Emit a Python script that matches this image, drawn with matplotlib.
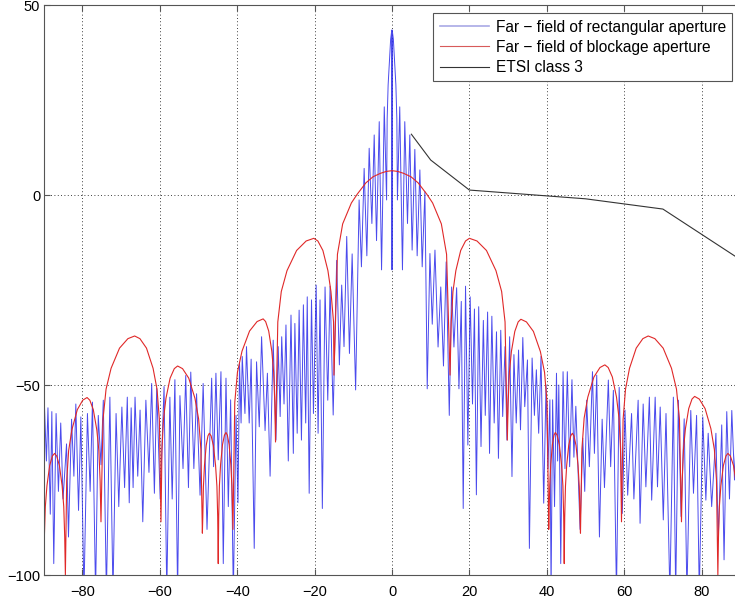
import matplotlib
matplotlib.use("Agg")
import matplotlib.pyplot as plt

plt.rcParams["font.family"] = ["Liberation Sans", "DejaVu Sans"]

# far-field of the rectangular aperture (angle deg, level dB)
blue_left_outer = [
    (-90.0, -50), (-89.3, -70), (-88.9, -56), (-88.3, -84), (-87.9, -57), (-87.4, -97),
    (-86.8, -57.5), (-86.2, -78), (-85.6, -60), (-85.0, -80), (-84.1, -65.5), (-83.6, -90),
    (-82.8, -59), (-82.2, -74), (-81.7, -55), (-81.0, -83), (-80.4, -58.4), (-79.6, -105),
    (-78.7, -57.5), (-78.0, -78), (-77.4, -54.5), (-76.6, -105), (-75.9, -58), (-75.2, -71),
    (-74.6, -54), (-73.8, -105), (-72.9, -53.2), (-72.1, -105), (-71.3, -57.5), (-70.6, -82),
    (-69.8, -55.8), (-69.1, -77), (-68.4, -53.2), (-67.9, -81), (-67.4, -56), (-66.9, -77),
    (-66.4, -53.2), (-65.7, -74), (-65.1, -56.6), (-64.4, -86), (-63.6, -54), (-62.8, -73),
    (-62.1, -49.6), (-61.4, -78.5), (-60.8, -50.9), (-59.9, -80), (-58.9, -50.4), (-58.2, -105),
    (-57.4, -53.2), (-56.8, -80), (-56.1, -48.6), (-55.4, -105), (-54.8, -52.8), (-54.0, -72),
    (-53.3, -47.5), (-52.6, -77), (-52.0, -46.6), (-51.2, -72), (-50.5, -52.3), (-49.6, -79),
    (-48.8, -49.6), (-47.8, -88),
]
blue_left_inner = [
    (-46.6, -48.2), (-46.1, -71.5), (-45.5, -46.9), (-44.9, -69.7), (-44.2, -46.5), (-43.6, -97),
    (-42.9, -48.2), (-42.3, -82), (-41.7, -53.9), (-41.0, -105), (-40.3, -58), (-39.8, -81),
    (-39.4, -44.3), (-39.0, -60), (-38.7, -42.5), (-38.0, -57.5), (-37.6, -39.9), (-36.9, -60),
    (-36.4, -43.2), (-35.6, -93), (-35.0, -43.9), (-34.3, -61), (-33.7, -37.3), (-32.8, -62),
    (-32.2, -46.9), (-31.5, -74), (-30.7, -38.2), (-30.0, -64.5), (-29.4, -39.9), (-28.9, -58.3),
    (-28.5, -37.3), (-27.9, -55), (-27.4, -34.2), (-26.8, -70), (-26.1, -31.6), (-25.5, -68),
    (-25.1, -33.8), (-24.5, -62.7), (-24.0, -30.3), (-23.4, -64.5), (-22.9, -28.9), (-22.3, -60),
    (-21.9, -26.8), (-21.4, -78.5), (-20.8, -27.6), (-20.3, -57.5), (-19.6, -23.7), (-19.1, -62.7),
    (-18.6, -27.6), (-18.0, -82.5), (-17.3, -24.2), (-16.6, -54), (-16.0, -24), (-15.2, -57.9),
    (-14.3, -17.2), (-13.6, -44.7), (-13.0, -23.7), (-12.4, -39.9), (-11.7, -10.9), (-11.0, -41.7),
    (-10.3, -15.5), (-9.4, -51.3), (-8.5, -1.3), (-7.9, -18.9), (-7.2, 7), (-6.5, -16),
    (-5.9, 12.3), (-5.2, -7.5), (-4.6, 15.8), (-4.0, -12), (-3.3, 19.3), (-2.7, -19.7),
    (-2.0, 23.2), (-1.4, -1.3),
]
blue_main = [
    (-1.25, 20), (-1.0, 29), (-0.65, 35.5), (-0.35, 41), (-0.05, 43.4), (0.0, -19.7),
    (0.05, 43.4), (0.35, 41), (0.65, 35.5), (1.0, 29), (1.25, 20),
]
blue_right_inner = [
    (1.4, -1.3), (2.0, 23.2), (2.7, -19.7), (3.3, 19.3), (4.0, -7.5), (4.6, 15.8),
    (5.2, -14.5), (5.9, 12), (6.5, -16), (7.2, 6.6), (7.8, -18.9), (8.5, 0.9),
    (9.1, -51), (9.8, -15.4), (10.4, -34), (11.1, -14.5), (11.9, -40), (12.6, -24.2),
    (13.3, -45), (14.0, -17.6), (14.8, -58), (15.4, -24.2), (16.0, -40), (16.7, -24.4),
    (17.3, -51), (17.9, -28), (18.4, -82.5), (19.0, -24), (19.6, -65.8), (20.2, -26.8),
    (20.8, -55), (21.3, -30), (21.8, -78.9), (22.4, -29.4), (23.0, -66.2), (23.6, -33),
    (24.1, -58), (24.7, -30.8), (25.2, -68), (25.8, -31.9), (26.4, -60), (27.0, -36),
    (27.5, -69.3), (28.1, -35.6), (28.6, -58.3), (29.2, -39.9), (29.7, -64.5), (30.4, -37.3),
    (31.0, -74.1), (31.5, -42), (32.1, -60), (32.7, -40.8), (33.2, -61.8), (33.8, -37.5),
    (34.3, -55.7), (35.0, -43.4), (35.5, -93), (36.2, -42.9), (36.8, -58), (37.3, -46),
    (37.9, -62.7), (38.5, -42.5), (39.2, -81.1), (39.8, -50), (40.3, -72), (40.8, -53.9),
    (41.1, -105), (41.5, -53.9), (42.0, -82), (42.5, -46.9), (42.8, -70), (43.1, -50),
    (43.6, -97), (44.2, -46.5), (44.7, -72), (45.3, -46.5), (45.9, -71.5), (46.5, -48.6),
    (47.0, -69), (47.5, -55.6),
]
blue_right_outer = [
    (48.6, -88), (49.3, -64), (49.8, -78), (50.3, -54), (51.0, -71.5), (51.8, -46.5),
    (52.3, -68), (52.9, -47.4), (53.6, -90), (54.3, -59), (54.9, -77), (55.9, -48.7),
    (56.5, -71.5), (57.2, -51.4), (58.0, -105), (58.7, -50.6), (59.5, -83.8), (60.2, -56.6),
    (60.9, -79), (61.9, -57.5), (62.5, -80), (63.6, -54), (64.1, -86.4), (64.9, -55),
    (65.6, -76.8), (66.5, -53.2), (67.1, -80.3), (68.0, -53.2), (68.6, -76.8), (69.3, -55.8),
    (70.1, -85.5), (70.8, -57.5), (71.8, -105), (72.7, -53.2), (73.3, -105), (74.0, -54),
    (74.7, -84.6), (75.5, -58.9), (76.2, -105), (77.2, -56.7), (77.9, -78.5), (78.7, -58),
    (79.4, -105), (80.3, -58.4), (81.1, -80.3), (81.7, -62.7), (82.6, -82), (83.7, -62.7),
    (84.3, -90.8), (85.2, -60.5), (85.8, -96), (86.5, -57), (87.2, -80), (87.8, -56.7),
    (88.5, -75), (89.2, -55.5), (90.0, -60),
]

# far-field of the blockage aperture
red_left = [
    (-90.0, -110), (-89.83, -90), (-89.58, -82), (-89.16, -76.5), (-88.46, -71.2), (-87.76, -68.7),
    (-87.2, -68), (-86.64, -68.7), (-85.94, -71.2), (-85.24, -76.5), (-84.82, -82), (-84.57, -90),
    (-84.4, -100),
    (-84.06, -75.3), (-83.56, -67.3), (-82.72, -61.8), (-81.32, -56.5), (-79.92, -54.0), (-78.8, -53.3),
    (-78.08, -54.0), (-77.18, -56.5), (-76.28, -61.8), (-75.74, -67.3), (-75.42, -75.3), (-75.2, -86),
    (-74.68, -59.1), (-73.89, -51.1), (-72.59, -45.6), (-70.41, -40.3), (-68.24, -37.8), (-66.5, -37.1),
    (-65.14, -37.8), (-63.44, -40.3), (-61.74, -45.6), (-60.72, -51.1), (-60.11, -59.1), (-59.7, -86),
    (-59.44, -67), (-59.05, -59), (-58.41, -53.5), (-57.34, -48.2), (-56.26, -45.7), (-55.4, -45),
    (-54.12, -45.7), (-52.52, -48.2), (-50.92, -53.5), (-49.96, -59), (-49.38, -67), (-49.0, -89),
    (-48.89, -84.7), (-48.73, -76.7), (-48.46, -71.2), (-48.01, -65.9), (-47.56, -63.4), (-47.2, -62.7),
    (-46.74, -63.4), (-46.16, -65.9), (-45.59, -71.2), (-45.24, -76.7), (-45.04, -84.7), (-44.9, -97),
    (-44.78, -84.5), (-44.6, -76.5), (-44.3, -71), (-43.8, -65.7), (-43.3, -63.2), (-42.9, -62.5),
    (-42.54, -63.2), (-42.09, -65.7), (-41.64, -71), (-41.37, -76.5), (-41.21, -83), (-41.1, -88),
    (-40.63, -54.6), (-39.93, -46.6), (-38.76, -41.1), (-36.81, -35.8), (-34.86, -33.3), (-33.3, -32.6),
    (-32.66, -33.3), (-31.86, -35.8), (-31.06, -41.1), (-30.58, -46.6), (-30.29, -54.6), (-30.1, -65),
    (-29.51, -33.4), (-28.61, -25.4), (-27.13, -19.9), (-24.65, -14.6), (-22.18, -12.1), (-20.2, -11.4),
    (-19.16, -12.1), (-17.86, -14.6), (-16.56, -19.9), (-15.78, -25.4), (-15.11, -33.4), (-15.0, -47.4),
]
red_main = [
    (-14.1, -15.6), (-12.75, -7.6), (-10.5, -2.1), (-9.0, 0.2), (-6.75, 3.2), (-4.9, 4.8),
    (-3.0, 5.7), (-1.5, 6.2), (0.0, 6.4), (1.5, 6.2), (3.0, 5.7), (4.9, 4.8), (6.75, 3.2),
    (9.0, 0.2), (10.5, -2.1), (12.75, -7.6), (14.1, -15.6),
]
red_right = [
    (15.0, -47.4), (15.3, -33.4), (15.75, -25.4), (16.5, -19.9), (17.75, -14.6), (19.0, -12.1),
    (20.0, -11.4), (21.96, -12.1), (24.41, -14.6), (26.86, -19.9), (28.33, -25.4), (29.21, -33.4),
    (29.8, -64.5),
    (30.01, -54.7), (30.33, -46.7), (30.85, -41.2), (31.73, -35.9), (32.6, -33.4), (33.3, -32.7),
    (34.74, -33.4), (36.54, -35.9), (38.34, -41.2), (39.42, -46.7), (40.07, -54.7), (40.5, -88),
    (40.6, -83), (40.76, -76.5), (41.01, -71), (41.44, -65.7), (41.86, -63.2), (42.2, -62.5),
    (42.66, -63.2), (43.24, -65.7), (43.81, -71), (44.16, -76.5), (44.36, -84.5), (44.5, -97),
    (44.63, -84.7), (44.82, -76.7), (45.13, -71.2), (45.66, -65.9), (46.18, -63.4), (46.6, -62.7),
    (47.02, -63.4), (47.55, -65.9), (48.07, -71.2), (48.39, -76.7), (48.57, -84.7), (48.7, -89),
    (49.08, -66.7), (49.65, -58.7), (50.59, -53.2), (52.17, -47.9), (53.74, -45.4), (55.0, -44.7),
    (55.86, -45.4), (56.94, -47.9), (58.01, -53.2), (58.66, -58.7), (59.04, -66.7), (59.3, -86),
    (59.71, -59.1), (60.34, -51.1), (61.37, -45.6), (63.1, -40.3), (64.82, -37.8), (66.2, -37.1),
    (67.92, -37.8), (70.07, -40.3), (72.22, -45.6), (73.51, -51.1), (74.28, -59.1), (74.8, -86),
    (75.0, -75), (75.31, -67), (75.82, -61.5), (76.67, -56.2), (77.52, -53.7), (78.2, -53),
    (79.4, -53.7), (80.9, -56.2), (82.4, -61.5), (83.3, -67), (83.84, -75), (84.2, -100),
    (84.36, -90), (84.59, -82), (84.98, -76.5), (85.63, -71.2), (86.28, -68.7), (86.8, -68),
    (87.44, -68.7), (88.24, -71.2), (89.04, -76.5), (89.52, -82), (89.81, -90), (90.0, -110),
]

# ETSI class 3 envelope
etsi_deg = [5, 10, 20, 50, 70, 90]
etsi_db = [16, 9.2, 1.3, -1, -3.7, -17]

labels = ["Far \u2212 field of rectangular aperture",
          "Far \u2212 field of blockage aperture",
          "ETSI class 3"]

blue_x, blue_y = zip(*(blue_left_outer + blue_left_inner + blue_main + blue_right_inner + blue_right_outer))
red_x, red_y = zip(*(red_left + red_main + red_right))

fig = plt.figure(figsize=(7.35, 6.02), dpi=100)
ax = fig.add_axes([0.05946, 0.04485, 0.94776, 0.94684])

ax.plot(blue_x, blue_y, color="#2b2bea", lw=0.7, alpha=0.85, label=labels[0])
ax.plot(red_x, red_y, color="#e02828", lw=0.8, label=labels[1])
ax.plot(etsi_deg, etsi_db, color="#333333", lw=0.8, label=labels[2])

ax.set_xlim(-90, 90)
ax.set_ylim(-100, 50)
ax.set_xticks(range(-80, 81, 20))
ax.set_yticks([-100, -50, 0, 50])
ax.grid(True, color="black", linestyle=(0, (1, 3)), lw=0.6)
ax.tick_params(direction="in", length=4, top=True, right=True, labelsize=10.5, color="#555555")
ax.tick_params(axis="x", pad=7)
ax.tick_params(axis="y", pad=2.5)
for sp in ax.spines.values():
    sp.set_color("#555555")
    sp.set_linewidth(0.8)

leg = ax.legend(loc="upper left", bbox_to_anchor=(433.3 / 735, 1 - 13.3 / 602),
                bbox_transform=fig.transFigure, borderaxespad=0, fontsize=11.2,
                handlelength=3.2, handletextpad=0.42, borderpad=0.4, labelspacing=0.34,
                fancybox=False, framealpha=1, edgecolor="#555555")
leg.get_frame().set_linewidth(0.8)
leg.get_lines()[0].set_color("#9a9ae0")
leg.get_lines()[0].set_linewidth(1.2)
leg.get_lines()[1].set_color("#d85a5a")

fig.savefig("out.png", dpi=100)
